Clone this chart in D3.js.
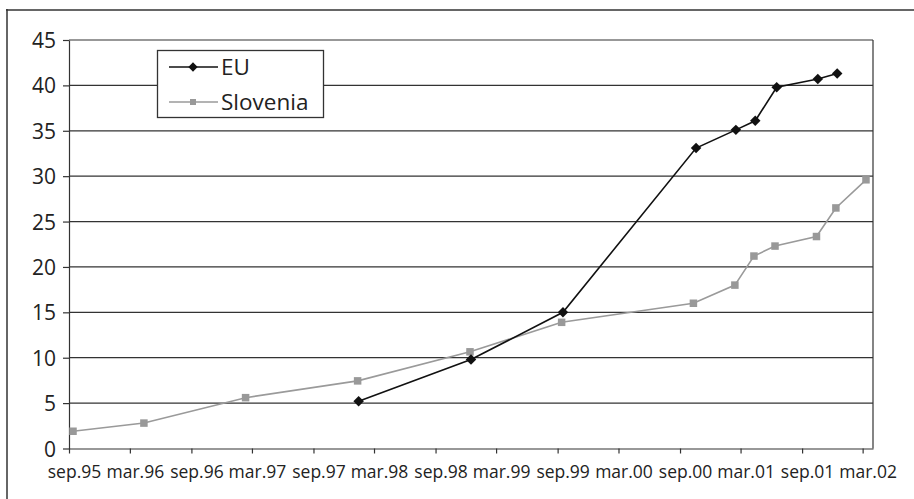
<!DOCTYPE html>
<html>
<head>
<meta charset="utf-8">
<script src="https://cdn.jsdelivr.net/npm/d3@7"></script>
<style>
  body { margin: 0; background: #fff; }
  svg { display: block; }
  .axis text { font-family: "Open Sans", sans-serif; fill: #222; }
  .axis path, .axis line { stroke: #333; }
</style>
</head>
<body>
<script>
// tick labels on the date axis
var tickLabels = ["sep.95", "mar.96", "sep.96", "mar.97", "sep.97", "mar.98", "sep.98",
  "mar.99", "sep.99", "mar.00", "sep.00", "mar.01", "sep.01", "mar.02"];
var tickDates = ["1995-09-01", "1996-03-01", "1996-09-01", "1997-03-01", "1997-09-01", "1998-03-01", "1998-09-01",
  "1999-03-01", "1999-09-01", "2000-03-01", "2000-09-01", "2001-03-01", "2001-09-01", "2002-03-01"];
var yTicks = [0, 5, 10, 15, 20, 25, 30, 35, 40, 45];

// EU series
var euDates = ["1998-01-14", "1998-12-16", "1999-09-17", "2000-10-19", "2001-02-15",
  "2001-04-14", "2001-06-17", "2001-10-18", "2001-12-15"];
var euValues = [5.2, 9.8, 15.0, 33.1, 35.1, 36.1, 39.8, 40.7, 41.3];

// Slovenia series
var sloDates = ["1995-09-13", "1996-04-12", "1997-02-10", "1998-01-11", "1998-12-13", "1999-09-13",
  "2000-10-11", "2001-02-12", "2001-04-10", "2001-06-12", "2001-10-14", "2001-12-11", "2002-03-11"];
var sloValues = [1.9, 2.8, 5.6, 7.45, 10.65, 13.9, 16.0, 18.0, 21.2, 22.3, 23.35, 26.5, 29.6];

var svgWidth = 914;
var svgHeight = 499;

var margin = { top: 40, right: 41, bottom: 50, left: 69 };
var chartWidth = svgWidth - margin.left - margin.right;
var chartHeight = 448.5 - margin.top;

var parse = d3.timeParse("%Y-%m-%d");

var svg = d3.select("body")
  .append("svg")
  .attr("width", svgWidth)
  .attr("height", svgHeight);

// outer frame of the scanned figure (top and left only)
svg.append("line")
  .attr("x1", 6).attr("x2", svgWidth).attr("y1", 10).attr("y2", 10)
  .attr("stroke", "#666").attr("stroke-width", 2);
svg.append("line")
  .attr("x1", 7).attr("x2", 7).attr("y1", 9).attr("y2", svgHeight)
  .attr("stroke", "#333").attr("stroke-width", 1.5);

var xScale = d3.scaleTime()
  .domain([parse("1995-09-01"), parse("2002-04-01")])
  .range([0, chartWidth]);

var yScale = d3.scaleLinear()
  .domain([0, 45])
  .range([chartHeight, 0]);

var chartGroup = svg.append("g")
  .attr("transform", `translate(${margin.left}, ${margin.top})`);

// horizontal gridlines
chartGroup.selectAll(".grid")
  .data(yTicks.filter(d => d > 0))
  .enter()
  .append("line")
  .attr("class", "grid")
  .attr("x1", 0)
  .attr("x2", chartWidth)
  .attr("y1", d => yScale(d))
  .attr("y2", d => yScale(d))
  .attr("stroke", "#333")
  .attr("stroke-width", 1.2);

// right border of plot area
chartGroup.append("line")
  .attr("x1", chartWidth).attr("x2", chartWidth)
  .attr("y1", 0).attr("y2", chartHeight)
  .attr("stroke", "#333").attr("stroke-width", 1.2);

var bottomAxis = d3.axisBottom(xScale)
  .tickValues(tickDates.map(parse))
  .tickFormat((d, i) => tickLabels[i])
  .tickSizeInner(5)
  .tickSizeOuter(0)
  .tickPadding(10);

var leftAxis = d3.axisLeft(yScale)
  .tickValues(yTicks)
  .tickSizeInner(6)
  .tickSizeOuter(0)
  .tickPadding(7);

var xAxisG = chartGroup.append("g")
  .attr("class", "axis")
  .attr("transform", `translate(0, ${chartHeight})`)
  .call(bottomAxis);
xAxisG.selectAll("text")
  .attr("font-size", 17.5)
  .attr("dx", 5)
  .attr("dy", "0.85em");
xAxisG.selectAll("path, line").attr("stroke-width", 1.2);

var yAxisG = chartGroup.append("g")
  .attr("class", "axis")
  .call(leftAxis);
yAxisG.selectAll("text")
  .attr("font-size", 21)
  .attr("dy", "0.36em");
yAxisG.selectAll("path, line").attr("stroke-width", 1.2);

var euData = euDates.map((d, i) => ({ date: parse(d), value: euValues[i] }));
var sloData = sloDates.map((d, i) => ({ date: parse(d), value: sloValues[i] }));

var line = d3.line()
  .x(d => xScale(d.date))
  .y(d => yScale(d.value));

// Slovenia line and squares
chartGroup.append("path")
  .datum(sloData)
  .attr("d", line)
  .attr("fill", "none")
  .attr("stroke", "#9a9a9a")
  .attr("stroke-width", 1.6);

var sq = 7.5;
chartGroup.selectAll(".slo")
  .data(sloData)
  .enter()
  .append("rect")
  .attr("class", "slo")
  .attr("x", d => xScale(d.date) - sq / 2)
  .attr("y", d => yScale(d.value) - sq / 2)
  .attr("width", sq)
  .attr("height", sq)
  .attr("fill", "#999");

// EU line and diamonds
chartGroup.append("path")
  .datum(euData)
  .attr("d", line)
  .attr("fill", "none")
  .attr("stroke", "#111")
  .attr("stroke-width", 1.6);

var diamond = d3.symbol().type(d3.symbolDiamond2).size(70);
chartGroup.selectAll(".eu")
  .data(euData)
  .enter()
  .append("path")
  .attr("class", "eu")
  .attr("transform", d => `translate(${xScale(d.date)}, ${yScale(d.value)})`)
  .attr("d", diamond)
  .attr("fill", "#111");

// legend
var legend = svg.append("g");
legend.append("rect")
  .attr("x", 157.5).attr("y", 50.5)
  .attr("width", 166).attr("height", 67)
  .attr("fill", "#fff")
  .attr("stroke", "#333")
  .attr("stroke-width", 1.3);

legend.append("line")
  .attr("x1", 169).attr("x2", 218).attr("y1", 67).attr("y2", 67)
  .attr("stroke", "#111").attr("stroke-width", 1.6);
legend.append("path")
  .attr("transform", "translate(193, 67)")
  .attr("d", d3.symbol().type(d3.symbolDiamond2).size(55))
  .attr("fill", "#111");
legend.append("text")
  .attr("x", 221).attr("y", 75)
  .attr("font-family", "Open Sans, sans-serif")
  .attr("font-size", 22.5)
  .attr("fill", "#222")
  .text("EU");

legend.append("line")
  .attr("x1", 169).attr("x2", 218).attr("y1", 102).attr("y2", 102)
  .attr("stroke", "#9a9a9a").attr("stroke-width", 1.6);
legend.append("rect")
  .attr("x", 190).attr("y", 99)
  .attr("width", 6).attr("height", 6)
  .attr("fill", "#999");
legend.append("text")
  .attr("x", 221).attr("y", 110)
  .attr("font-family", "Open Sans, sans-serif")
  .attr("font-size", 22.5)
  .attr("fill", "#222")
  .text("Slovenia");
</script>
</body>
</html>
